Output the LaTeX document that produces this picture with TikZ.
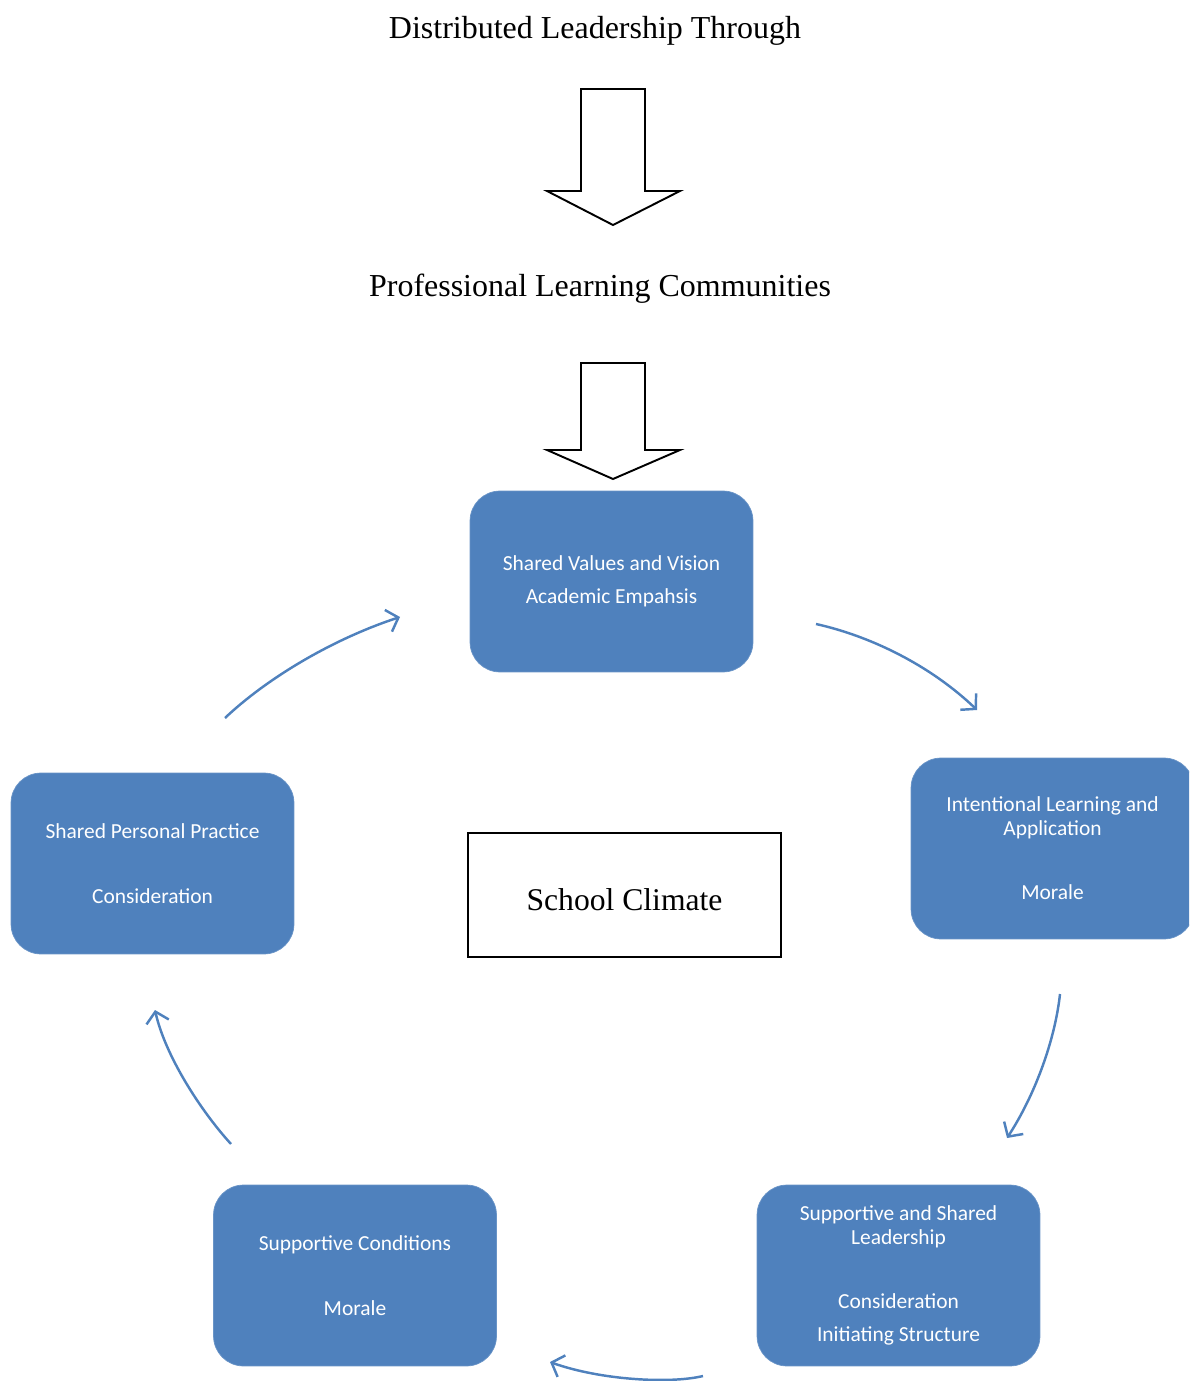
\documentclass[tikz,border=0pt]{standalone}
\usepackage{fontspec}
\setmainfont{Liberation Serif}
\newfontfamily\boxfont{Carlito}
\usetikzlibrary{arrows.meta}
\definecolor{climblue}{HTML}{4F81BD}
\tikzset{
  phase/.style={rounded corners=0.6cm, fill=climblue, draw=climblue!85!white, text=white,
    minimum width=5.66cm, minimum height=3.62cm, align=center,
    font=\boxfont\fontsize{12.2}{13.3}\selectfont},
  cycle arrow/.style={climblue, line width=1.4pt, -{Straight Barb[length=6pt,width=13pt,line width=1.4pt]}},
  block arrow/.style={draw=black, line width=1.1pt, fill=white}
}

\begin{document}
\begin{tikzpicture}[x=0.02cm,y=-0.02cm]
                % Define the page frame
                \clip (0,0) rectangle (1189,1381);

                % Define the titles
                \node[font=\fontsize{18.2}{21}\selectfont] (lead) at (595,31) {Distributed Leadership Through};
                \node[font=\fontsize{18.2}{21}\selectfont] (plc) at (600,289) {Professional Learning Communities};

                % Define the two block arrows
                \draw[block arrow] (581,89) -- (645,89) -- (645,191) -- (680,191) -- (613,225) -- (547,191) -- (581,191) -- cycle;
                \draw[block arrow] (581,363) -- (645,363) -- (645,450) -- (680,450) -- (613,479) -- (547,450) -- (581,450) -- cycle;

                % Define the centre box
                \node[draw, line width=1.1pt, minimum width=6.26cm, minimum height=2.48cm,
                  text height=18pt, text depth=0pt,
                  font=\fontsize{18}{21}\selectfont] (climate) at (624.5,895) {School Climate};

                % Define the five phases of the cycle
                \node[phase] (values) at (611.5,581.5) {Shared Values and Vision\\[5.4pt]Academic Empahsis};
                \node[phase] (intent) at (1052.5,848.5) {Intentional Learning and\\Application\\[23.5pt]Morale};
                \node[phase] (support) at (898.5,1275.5) {Supportive and Shared\\Leadership\\[23.5pt]Consideration\\[5.4pt]Initiating Structure};
                \node[phase] (cond) at (355,1275.5) {Supportive Conditions\\[23.5pt]Morale};
                \node[phase] (practice) at (152.5,863.5) {Shared Personal Practice\\[23.5pt]Consideration};

                % Define the ends of the curved arrows
                \coordinate (a1s) at (816,624);  \coordinate (a1e) at (977,710);
                \coordinate (a2s) at (1060,994); \coordinate (a2e) at (1007,1138);
                \coordinate (a3s) at (703,1376); \coordinate (a3e) at (550,1362);
                \coordinate (a4s) at (231,1144); \coordinate (a4e) at (155,1010);
                \coordinate (a5s) at (225,718);  \coordinate (a5e) at (400,617);

                % Define the curved arrows round the cycle
                \draw[cycle arrow] (a1s) .. controls (870,636) and (930,665) .. (a1e);
                \draw[cycle arrow] (a2s) .. controls (1055,1040) and (1035,1095) .. (a2e);
                \draw[cycle arrow] (a3s) .. controls (670,1384) and (600,1380) .. (a3e);
                \draw[cycle arrow] (a4s) .. controls (200,1110) and (165,1055) .. (a4e);
                \draw[cycle arrow] (a5s) .. controls (265,680) and (330,640) .. (a5e);

            \end{tikzpicture}
\end{document}
